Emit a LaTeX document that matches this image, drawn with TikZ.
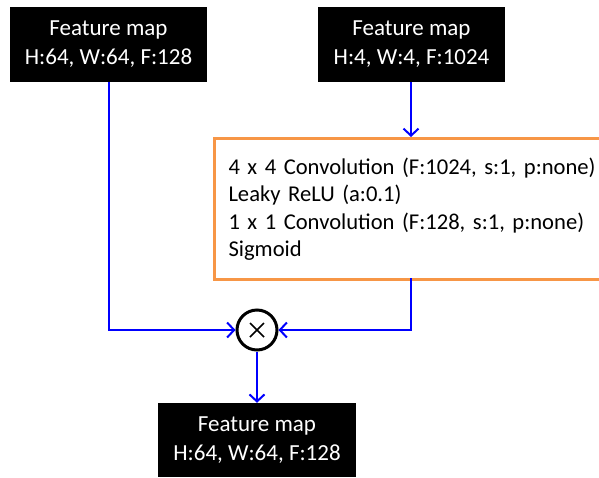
\documentclass[tikz,border=0pt]{standalone}
\usepackage{fontspec}
\setmainfont{Carlito}
\usetikzlibrary{arrows.meta}
\definecolor{blueline}{RGB}{0,0,255}
\definecolor{orangeline}{RGB}{247,150,70}
\tikzset{
  fmap/.style={fill=black, text=white, align=center, inner sep=0pt,
    font=\fontsize{23}{29}\selectfont},
  convbox/.style={draw=orangeline, line width=3pt, fill=white, align=left,
    inner xsep=14pt, inner ysep=0pt, text width=380pt,
    font=\fontsize{22.6}{27.5}\selectfont},
  flow/.style={draw=blueline, line width=2pt, -{Straight Barb[length=7pt,width=15pt,line width=2pt]}},
  mult/.style={circle, draw=black, line width=3pt, minimum size=40pt, inner sep=0pt, fill=white}
}
\begin{document}
\begin{tikzpicture}[x=1pt,y=-1pt]
\useasboundingbox (0,0) rectangle (599,477);
\node[fmap, minimum width=197pt, minimum height=75pt] (b1) at (108.5,44.5) {Feature map\\H:64, W:64, F:128};
\node[fmap, minimum width=187pt, minimum height=75pt] (b2) at (411.5,44.5) {Feature map\\H:4, W:4, F:1024};
\node[fmap, minimum width=198pt, minimum height=74pt] (b3) at (257,440) {Feature map\\H:64, W:64, F:128};
\node[convbox, minimum height=141pt, anchor=north west] (conv) at (213,137)
  {4 x 4 Convolution (F:1024, s:1, p:none)\\Leaky ReLU (a:0.1)\\1 x 1 Convolution (F:128, s:1, p:none)\\Sigmoid};
\node[mult] (m) at (257,330) {};
\draw[line width=1.6pt] ([shift={(-7,-7)}]m.center) -- ([shift={(7,7)}]m.center)
  ([shift={(-7,7)}]m.center) -- ([shift={(7,-7)}]m.center);
\coordinate (rin) at (411,137);
\coordinate (rout) at (411,278);
\draw[flow] (b2.south -| rin) -- (rin);
\draw[flow] (b1.south) |- (m.west);
\draw[flow] (rout) |- (m.east);
\draw[flow] (m.south) -- (b3.north);
\end{tikzpicture}
\end{document}
